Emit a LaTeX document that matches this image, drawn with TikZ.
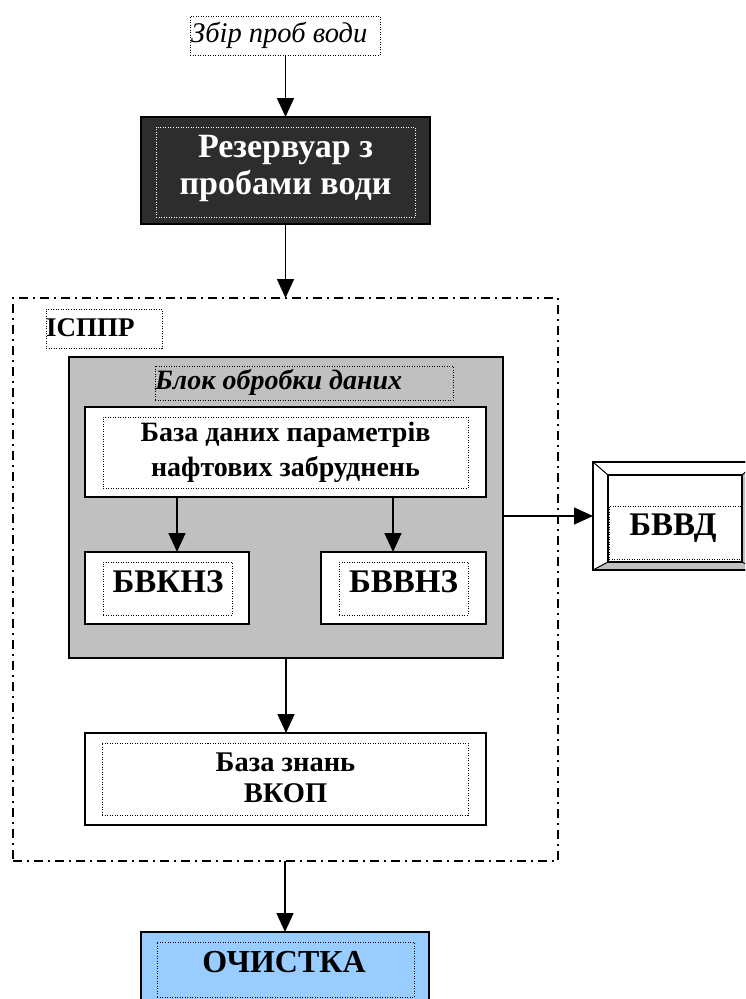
\documentclass[tikz,border=0pt]{standalone}
\usepackage{fontspec}
\setmainfont{Liberation Serif}
\usetikzlibrary{arrows.meta}
\definecolor{darkbox}{RGB}{45,45,45}
\definecolor{greybox}{RGB}{192,192,192}
\definecolor{bluebox}{RGB}{153,204,255}
\tikzset{
  box/.style={draw, line width=1.8pt, inner sep=0pt, outer sep=0pt},
  dotbox/.style={draw, line width=1pt, dash pattern=on 1pt off 1.5pt, inner sep=0pt, outer sep=0pt},
  dashdotbox/.style={draw, line width=1.6pt, dash pattern=on 9pt off 5pt on 2pt off 5pt, inner sep=0pt, outer sep=0pt},
  arr/.style={-{Triangle[length=19pt,width=17pt]}, line width=1.6pt},
  lbl/.style={font=\bfseries\fontsize{28}{32}\selectfont, align=center, inner sep=0pt},
  biglbl/.style={font=\bfseries\fontsize{33}{37}\selectfont, align=center, inner sep=0pt},
}
\begin{document}
\begin{tikzpicture}[x=1pt, y=-1pt]
\useasboundingbox (0,0) rectangle (745,999);
\clip (0,0) rectangle (745,999);

% top input
\node[dotbox, minimum width=190, minimum height=39] (zbir) at (285,35.5) {};
\node[anchor=west, inner sep=0pt, font=\itshape\fontsize{28.5}{30}\selectfont] (zbirT) at (191,35) {Збір проб води};

% reservoir
\node[box, fill=darkbox, minimum width=289, minimum height=107] (res) at (285.5,170.5) {};
\node[dotbox, draw=white, minimum width=259, minimum height=90] (resIn) at (285.5,172) {};
\node[biglbl, text=white, font=\bfseries\fontsize{34}{37}\selectfont] (resT) at (285.5,168) {Резервуар з\\пробами води};

% IS box
\node[dashdotbox, minimum width=545, minimum height=563] (isppr) at (285.5,579.5) {};
\node[dotbox, minimum width=116, minimum height=39] (isT) at (104,328.5) {};
\node[anchor=west, inner sep=0pt, font=\bfseries\fontsize{27}{30}\selectfont] (isL) at (46,328) {ІСППР};

% data processing block
\node[box, fill=greybox, minimum width=434, minimum height=301] (gray) at (286,507.5) {};
\node[dotbox, minimum width=298, minimum height=34] (blok) at (304,383) {};
\node[anchor=west, inner sep=0pt, font=\bfseries\itshape\fontsize{28}{30}\selectfont] (blokT) at (155,382) {Блок обробки даних};

\node[box, fill=white, minimum width=401, minimum height=90] (db) at (285.5,452) {};
\node[dotbox, minimum width=365, minimum height=71] (dbIn) at (285.5,452.5) {};
\node[lbl, font=\bfseries\fontsize{28}{35}\selectfont] (dbT) at (285.5,452) {База даних параметрів\\нафтових забруднень};

\node[box, fill=white, minimum width=164, minimum height=72] (bvknz) at (167,588) {};
\node[dotbox, minimum width=129, minimum height=53] (bvknzIn) at (167.5,588.5) {};
\node[biglbl] (bvknzT) at (168,582) {БВКНЗ};

\node[box, fill=white, minimum width=165, minimum height=72] (bvvnz) at (403.5,588) {};
\node[dotbox, minimum width=129, minimum height=53] (bvvnzIn) at (403.5,588.5) {};
\node[biglbl] (bvvnzT) at (403.5,582) {БВВНЗ};

\coordinate (a1) at (177,0);
\coordinate (a2) at (393,0);
\draw[arr] (db.south -| a1) -- (bvknz.north -| a1);
\draw[arr] (db.south -| a2) -- (bvvnz.north -| a2);

% knowledge base
\node[box, fill=white, minimum width=401, minimum height=92] (bz) at (285.5,779) {};
\node[dotbox, minimum width=366, minimum height=72] (bzIn) at (285,779) {};
\node[lbl, font=\bfseries\fontsize{28.5}{31}\selectfont] (bzT) at (285.5,777.5) {База знань\\ВКОП};

% BVVD bevelled box
\node[box, fill=white, minimum width=164, minimum height=108] (bvvd) at (675,516) {};
\node[box, fill=white, minimum width=134, minimum height=87] (bvvdIn) at (675,518.5) {};
\fill[greybox] (bvvd.south west) -- (bvvdIn.south west) -- (bvvdIn.south east) -- (bvvd.south east) -- cycle;
\fill[greybox] (bvvd.north east) -- (bvvdIn.north east) -- (bvvdIn.south east) -- (bvvd.south east) -- cycle;
\draw[line width=1.8pt] (bvvd.north west) rectangle (bvvd.south east);
\draw[line width=1.8pt] (bvvdIn.north west) rectangle (bvvdIn.south east);
\draw[line width=1pt] (bvvd.north west) -- (bvvdIn.north west);
\draw[line width=1pt] (bvvd.south west) -- (bvvdIn.south west);
\draw[line width=1pt] (bvvd.north east) -- (bvvdIn.north east);
\draw[line width=1pt] (bvvd.south east) -- (bvvdIn.south east);
\node[dotbox, minimum width=132, minimum height=53] (bvvdDot) at (675,532.5) {};
\node[biglbl] (bvvdT) at (673,528) {БВВД};

% cleaning
\node[box, fill=bluebox, minimum width=288, minimum height=83] (och) at (285,973.5) {};
\node[dotbox, minimum width=257, minimum height=55] (ochIn) at (285.5,969.5) {};
\node[biglbl, font=\bfseries\fontsize{32}{36}\selectfont] (ochT) at (284,962) {ОЧИСТКА};

% connectors
\draw[arr] (zbir.south -| res.north) -- (res.north);
\draw[arr] (res.south) -- (isppr.north -| res.south);
\draw[arr] (gray.south) -- (bz.north -| gray.south);
\draw[arr] (isppr.south -| och.north) -- (och.north);
\draw[arr] (gray.east |- bvvd.west) -- (bvvd.west);
\end{tikzpicture}
\end{document}
